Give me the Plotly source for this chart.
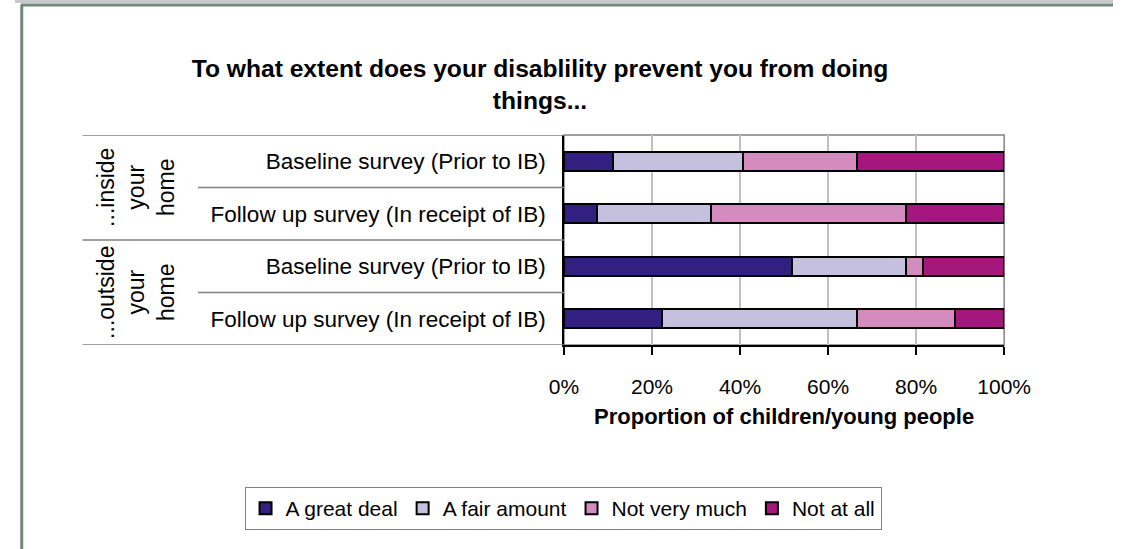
import plotly.graph_objects as go

# Survey responses (% of children/young people), top row first
row_labels = [
    "Baseline survey (Prior to IB)",
    "Follow up survey (In receipt of IB)",
    "Baseline survey (Prior to IB)",
    "Follow up survey (In receipt of IB)",
]
group_labels = ["...inside<br>your<br>home", "...outside<br>your<br>home"]

great_deal = [11.1, 7.4, 51.9, 22.2]
fair_amount = [29.6, 25.9, 25.9, 44.4]
not_very_much = [25.9, 44.4, 3.7, 22.2]
not_at_all = [33.3, 22.2, 18.5, 11.1]

series_names = ["A great deal", "A fair amount", "Not very much", "Not at all"]
series_values = [great_deal, fair_amount, not_very_much, not_at_all]
series_colors = ["#31207f", "#c5c0de", "#d48bbe", "#a5177d"]

x_ticks = [0, 0.2, 0.4, 0.6, 0.8, 1.0]

W, H = 1140, 549
FONT = "Liberation Sans, Arial, sans-serif"

# plot area in pixels
PL, PR, PT, PB = 570, 1027, 135, 345

row_pos = list(range(len(row_labels)))

fig = go.Figure()
for name, vals, col in zip(series_names, series_values, series_colors):
    fig.add_trace(go.Bar(
        y=row_pos,
        x=[v / 100 for v in vals],
        orientation="h",
        name=name,
        width=0.36,
        marker=dict(color=col, line=dict(color="#000000", width=2)),
        hoverinfo="x+name",
    ))

shapes = []
# thin grey band and frame at the page top / left
shapes.append(dict(type="rect", xref="paper", yref="paper", x0=0, x1=1,
                   y0=1 - 3 / H, y1=1, fillcolor="#c8c8c8", line=dict(width=0), layer="below"))
shapes.append(dict(type="line", xref="paper", yref="paper", x0=6 / W, x1=1,
                   y0=1 - 5 / H, y1=1 - 5 / H, line=dict(color="#6f8878", width=3)))
shapes.append(dict(type="line", xref="paper", yref="paper", x0=7 / W, x1=7 / W,
                   y0=0, y1=1 - 5 / H, line=dict(color="#6f8878", width=3)))
# plot-area frame (grey)
shapes.append(dict(type="rect", xref="x domain", yref="y domain", x0=0, x1=1, y0=0, y1=1,
                   line=dict(color="#808080", width=1.5), layer="below"))
# category table lines on the left
for b in [-0.5, 1.5, 3.5]:
    shapes.append(dict(type="line", xref="paper", yref="y", x0=70 / W, x1=PL / W,
                       y0=b, y1=b, line=dict(color="#808080", width=1.5)))
for b in [0.5, 2.5]:
    shapes.append(dict(type="line", xref="paper", yref="y", x0=190 / W, x1=PL / W,
                       y0=b, y1=b, line=dict(color="#808080", width=1.5)))

annotations = []
for i, g in enumerate(group_labels):
    annotations.append(dict(
        text=g, xref="paper", yref="y", x=125 / W, y=2 * i + 0.5,
        textangle=-90, showarrow=False, align="center",
        font=dict(family=FONT, size=23, color="#000000"),
        xanchor="center", yanchor="middle",
    ))

fig.update_layout(
    width=W, height=H,
    margin=dict(l=0, r=0, t=0, b=0),
    paper_bgcolor="#ffffff", plot_bgcolor="#ffffff",
    barmode="stack",
    bargap=0,
    font=dict(family=FONT, size=21, color="#000000"),
    title=dict(
        text="<b>To what extent does your disablility prevent you from doing<br>things...</b>",
        x=540 / W, xanchor="center", y=1 - 77 / H, yanchor="middle",
        font=dict(family=FONT, size=24.6, color="#000000"),
    ),
    xaxis=dict(
        domain=[PL / W, PR / W],
        range=[0, 1],
        tickvals=x_ticks,
        tickformat=".0%",
        showgrid=True, gridcolor="#c0c0c0", gridwidth=1.5,
        showline=True, linecolor="#000000", linewidth=1.5,
        ticks="outside", ticklen=8, tickcolor="#000000", tickwidth=1.5,
        ticklabelstandoff=14,
        tickfont=dict(family=FONT, size=21),
        zeroline=False,
        fixedrange=True,
        title=dict(text="<b>Proportion of children/young people</b>",
                   font=dict(family=FONT, size=22), standoff=12),
    ),
    yaxis=dict(
        domain=[1 - PB / H, 1 - PT / H],
        range=[3.5, -0.5],
        tickvals=row_pos,
        ticktext=row_labels,
        showgrid=False, zeroline=False,
        showline=True, linecolor="#000000", linewidth=1.5,
        ticks="", ticklabelstandoff=12,
        tickfont=dict(family=FONT, size=22.5),
        fixedrange=True,
    ),
    legend=dict(
        orientation="h",
        x=569 / W, xanchor="center",
        y=1 - 487 / H, yanchor="top",
        bordercolor="#808080", borderwidth=1,
        font=dict(family=FONT, size=21),
        traceorder="normal",
        itemwidth=30,
    ),
    shapes=shapes,
    annotations=annotations,
    showlegend=True,
)

fig.write_html("out.html", post_script="document.body.style.margin='0';")
